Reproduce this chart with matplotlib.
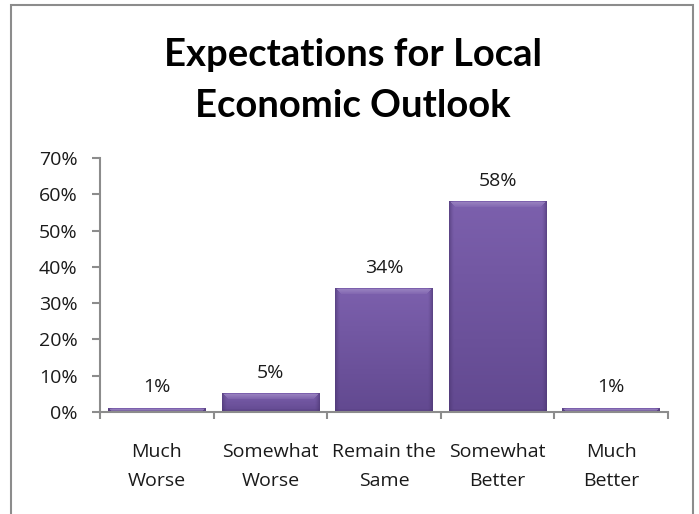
import matplotlib
matplotlib.use("Agg")
import matplotlib.pyplot as plt
import numpy as np
from matplotlib.patches import Rectangle
from matplotlib.ticker import MultipleLocator, FuncFormatter

categories = ["Much\nWorse", "Somewhat\nWorse", "Remain the\nSame", "Somewhat\nBetter", "Much\nBetter"]
values = [1, 5, 34, 58, 1]
title = "Expectations for Local\nEconomic Outlook"

plt.rcParams['font.family'] = ['Open Sans', 'DejaVu Sans']

W, H = 699, 514
fig = plt.figure(figsize=(W / 100, H / 100), dpi=100)
ax = fig.add_axes([100 / W, 1 - 412 / H, (668 - 100) / W, (412 - 158) / H])
ax.set_xlim(-0.5, len(values) - 0.5)
ax.set_ylim(0, 70)

x = np.arange(len(values))
bars = ax.bar(x, values, width=0.86, color="#6f559c", edgecolor="none", zorder=2)


def hex2rgb(h):
    return np.array(matplotlib.colors.to_rgb(h))


c_top = hex2rgb("#7c60ad")
c_bot = hex2rgb("#624990")
c_edge = hex2rgb("#4a3570")
c_hi = hex2rgb("#a28cc6")

for b in bars:
    bx, by, bw, bh = b.get_x(), b.get_y(), b.get_width(), b.get_height()
    (px0, py0), (px1, py1) = ax.transData.transform([(bx, by), (bx + bw, by + bh)])
    wp = max(int(round(px1 - px0)), 2)
    hp = max(int(round(py1 - py0)), 2)
    rows = np.arange(hp)[:, None]  # 0 = top
    cols = np.arange(wp)[None, :]
    t = rows / max(hp - 1, 1)
    img = c_top[None, None, :] * (1 - t[..., None]) + c_bot[None, None, :] * t[..., None]
    img = np.broadcast_to(img, (hp, wp, 3)).copy()
    # side darkening
    dl = cols
    dr = wp - 1 - cols
    dside = np.minimum(dl, dr)
    side = np.clip(1 - dside / 5.0, 0, 1) ** 1.5
    side = np.broadcast_to(side, (hp, wp))
    img = img * (1 - side[..., None] * 0.6) + c_edge[None, None, :] * (side[..., None] * 0.6)
    # bottom darkening
    db = hp - 1 - rows
    bot = np.broadcast_to(np.clip(1 - db / 3.0, 0, 1), (hp, wp))
    img = img * (1 - bot[..., None] * 0.5) + c_edge[None, None, :] * (bot[..., None] * 0.5)
    # top highlight band (bevel)
    hb = min(5, max(hp // 2, 1))
    fade = np.clip(1 - (rows - 1) / (hb + 1), 0, 1)
    band = ((rows >= 1) & (rows <= hb) & (dside > rows)).astype(float) * fade
    band = np.broadcast_to(band, (hp, wp)) * 0.7
    img = img * (1 - band[..., None]) + c_hi[None, None, :] * band[..., None]
    ax.imshow(img, aspect="auto", extent=(bx, bx + bw, by, by + bh), zorder=2.1,
              interpolation="nearest")

for xi, v in zip(x, values):
    ax.annotate(f"{v}%", (xi, v), xytext=(0, 11.5), textcoords="offset points",
                ha="center", va="baseline", fontsize=14, color="#1a1a1a")

ax.set_xlim(-0.5, len(values) - 0.5)
ax.set_ylim(0, 70)
ax.yaxis.set_major_locator(MultipleLocator(10))
ax.yaxis.set_major_formatter(FuncFormatter(lambda v, p: f"{int(v)}%"))
ax.set_xticks(x)
ax.set_xticklabels(categories, fontsize=14, color="#1a1a1a", linespacing=1.8)
ax.set_xticks(np.arange(-0.5, len(values)), minor=True)
ax.tick_params(axis="x", which="major", length=0, pad=22)
ax.tick_params(axis="x", which="minor", length=5, width=1.5, color="#8c8c8c", direction="out")
ax.tick_params(axis="y", length=5.8, width=1.5, color="#8c8c8c", direction="out", labelsize=14,
               labelcolor="#1a1a1a", pad=10.5)
for s in ["top", "right"]:
    ax.spines[s].set_visible(False)
for s in ["left", "bottom"]:
    ax.spines[s].set_color("#8c8c8c")
    ax.spines[s].set_linewidth(1.5)
ax.spines["bottom"].set_zorder(3)

fig.text(353 / W, 1 - 117 / H, title, ha="center", va="baseline",
         fontsize=27.5, fontweight="bold", linespacing=1.6, family=["Lato", "DejaVu Sans"])

fig.patches.append(Rectangle((11 / W, -0.1), (693 - 11) / W, 1.1 - 5 / H, transform=fig.transFigure,
                             facecolor="none", edgecolor="#8c8c8c", linewidth=1.5))

fig.savefig("out.png", dpi=100)
